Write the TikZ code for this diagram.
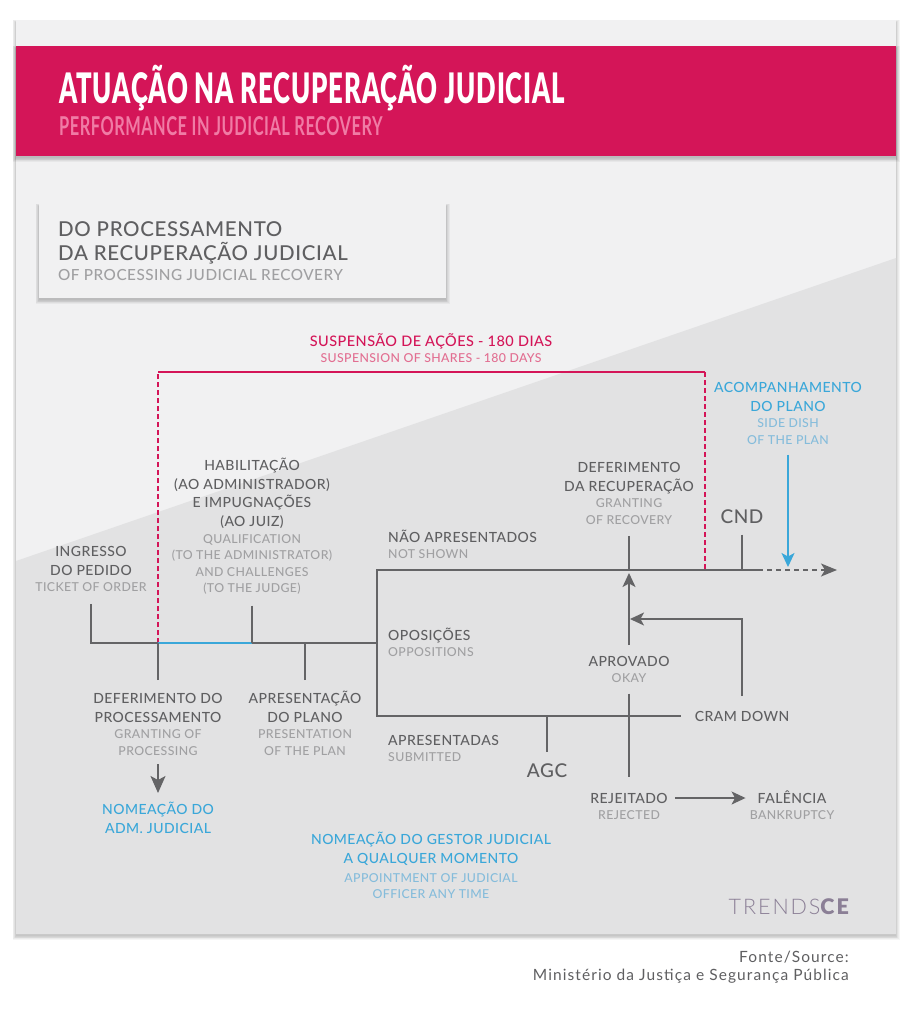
\documentclass[tikz,border=0pt]{standalone}
\usepackage{fontspec}
\usepackage{xcolor}
\usetikzlibrary{arrows.meta,positioning,calc}
\setmainfont{Lato}
\newfontfamily\labelfont[LetterSpace=3.2]{Lato Medium}
\newfontfamily\titlefont[FakeStretch=0.612,LetterSpace=2]{Lato Black}
\newfontfamily\subtitlefont[FakeStretch=0.63,LetterSpace=2]{Lato Bold}
\newfontfamily\srcfont[LetterSpace=7]{Lato}
\newfontfamily\logofont[LetterSpace=9]{Lato Light}
\newfontfamily\logobold[LetterSpace=9]{Lato Black}
\newcommand{\pt}{\labelfont\fontsize{14}{18.8}\selectfont}
\newcommand{\en}{\labelfont\fontsize{12.3}{16}\selectfont}
\newcommand{\hd}{\rule{0pt}{15pt}}
\newcommand{\enl}{\\[-2.3pt]}
\newcommand{\eng}{\en\color{engray}}
\newcommand{\enb}{\en\color{enblue}}
\newcommand{\enr}{\en\color{enred}}
\definecolor{panellight}{RGB}{241,241,242}
\definecolor{paneldark}{RGB}{226,226,227}
\definecolor{headred}{RGB}{212,21,88}
\definecolor{headpink}{RGB}{240,123,165}
\definecolor{linegray}{RGB}{100,100,102}
\definecolor{textgray}{RGB}{95,95,97}
\definecolor{engray}{RGB}{160,160,162}
\definecolor{softblue}{RGB}{58,167,217}
\definecolor{enblue}{RGB}{133,188,219}
\definecolor{enred}{RGB}{226,110,145}
\definecolor{logogray}{RGB}{139,127,150}
\newcommand{\softshadow}[2]{
  \foreach \d in {0,1,2,3,4,5} {
    \fill[black, opacity=0.04] ($(#1)+(-\d*0.7,-\d*0.4+2)$) rectangle ($(#2)+(\d*0.7,\d*0.8+2)$);
  }
}
\tikzset{
  lab/.style={inner sep=0pt, text=textgray, align=center, font=\pt},
  labl/.style={lab, align=left, anchor=north west},
  labc/.style={lab, anchor=north},
  bluelab/.style={labc, text=softblue},
  ln/.style={draw=linegray, line width=1.5pt},
  arw/.style={ln, -{Stealth[length=14pt, width=13pt, inset=3.5pt]}},
  reddash/.style={draw=headred, line width=1.3pt, dash pattern=on 5pt off 3pt},
}
\begin{document}
\begin{tikzpicture}[x=1pt, y=-1pt, >=Stealth]
  \useasboundingbox (0,0) rectangle (912,1024);
  \fill[white] (0,0) rectangle (912,1024);
  \softshadow{16,20}{896,934}
  \fill[panellight] (16,20) rectangle (896,934);
  \fill[paneldark] (16,561) -- (896,258) -- (896,934) -- (16,934) -- cycle;
  \softshadow{16,46}{896,156}
  \fill[headred] (16,46) rectangle (896,156);
  \softshadow{39,204}{446,298}
  \fill[panellight] (39,204) rectangle (446,298);

  \node[anchor=base west, inner sep=0pt, text=white, font=\titlefont\fontsize{42}{42}\selectfont] (title) at (59,104) {ATUAÇÃO NA RECUPERAÇÃO JUDICIAL};
  \node[anchor=base west, inner sep=0pt, text=headpink, font=\subtitlefont\fontsize{26}{26}\selectfont] (subtitle) at (59,136) {PERFORMANCE IN JUDICIAL RECOVERY};
  \node[inner sep=0pt, align=left, anchor=north west, text=textgray, font=\labelfont\fontsize{20.5}{24}\selectfont] (section) at (58,221) {DO PROCESSAMENTO\\DA RECUPERAÇÃO JUDICIAL\\[-4pt]\labelfont\fontsize{15.3}{20}\selectfont\color{engray}OF PROCESSING JUDICIAL RECOVERY};

  \node[labc, text=headred, font=\labelfont\fontsize{14.5}{18.8}\selectfont] (suspensao) at (431,331) {\hd SUSPENSÃO DE AÇÕES - 180 DIAS\enl\enr SUSPENSION OF SHARES - 180 DAYS};
  \node[bluelab] (acomp) at (788,377) {\hd ACOMPANHAMENTO\\DO PLANO\enl\enb SIDE DISH\enl\enb OF THE PLAN};
  \node[labc] (habilitacao) at (252,455) {\hd HABILITAÇÃO\\(AO ADMINISTRADOR)\\E IMPUGNAÇÕES\\(AO JUIZ)\enl\eng QUALIFICATION\enl\eng (TO THE ADMINISTRATOR)\enl\eng AND CHALLENGES\enl\eng (TO THE JUDGE)};
  \node[labc] (ingresso) at (91,541) {\hd INGRESSO\\DO PEDIDO\enl\eng TICKET OF ORDER};
  \node[labc] (defrec) at (629,457) {\hd DEFERIMENTO\\DA RECUPERAÇÃO\enl\eng GRANTING\enl\eng OF RECOVERY};
  \node[labl] (naoapres) at (388,527) {\hd NÃO APRESENTADOS\enl\eng NOT SHOWN};
  \node[labc, font=\labelfont\fontsize{19}{22}\selectfont] (cnd) at (742,508) {\hd CND};
  \node[labl] (oposicoes) at (388,625) {\hd OPOSIÇÕES\enl\eng OPPOSITIONS};
  \node[labc] (defproc) at (158,688) {\hd DEFERIMENTO DO\\PROCESSAMENTO\enl\eng GRANTING OF\enl\eng PROCESSING};
  \node[labc] (apresplano) at (305,688) {\hd APRESENTAÇÃO\\DO PLANO\enl\eng PRESENTATION\enl\eng OF THE PLAN};
  \node[bluelab] (nomeadm) at (158,799) {\hd NOMEAÇÃO DO\\ADM. JUDICIAL};
  \node[labc] (aprovado) at (629,651) {\hd APROVADO\enl\eng OKAY};
  \node[labc] (cram) at (742,706) {\hd CRAM DOWN};
  \node[labl] (apresent) at (388,730) {\hd APRESENTADAS\enl\eng SUBMITTED};
  \node[labc, font=\labelfont\fontsize{19}{22}\selectfont] (agc) at (547,762) {\hd AGC};
  \node[labc] (rejeitado) at (629,788) {\hd REJEITADO\enl\eng REJECTED};
  \node[labc] (falencia) at (792,788) {\hd FALÊNCIA\enl\eng BANKRUPTCY};
  \node[bluelab] (nomegestor) at (431,829) {\hd NOMEAÇÃO DO GESTOR JUDICIAL\\A QUALQUER MOMENTO\\[0.5pt]\enb APPOINTMENT OF JUDICIAL\enl\enb OFFICER ANY TIME};
  \node[anchor=base east, inner sep=0pt, text=logogray, font=\fontsize{21.5}{22}\selectfont] (logo) at (849,914) {\logofont TRENDS\logobold CE};
  \node[anchor=north east, inner sep=0pt, align=right, text=textgray, font=\srcfont\fontsize{15.5}{18}\selectfont] (fonte) at (849,951) {Fonte/Source:\\Ministério da Justiça e Segurança Pública};

  \coordinate (j158) at (158,643);
  \coordinate (j252) at (252,643);
  \coordinate (j305) at (305,643);
  \coordinate (j377) at (377,643);
  \coordinate (boxtop) at (377,570);
  \coordinate (boxbot) at (377,716);
  \coordinate (j547) at (547,716);
  \coordinate (j629) at (629,570);
  \coordinate (j705) at (705,570);
  \coordinate (j742) at (742,570);
  \coordinate (j788) at (788,570);
  \coordinate (dashstart) at (758,570);
  \coordinate (lineend) at (837,570);
  \coordinate (cramjoin) at (629,619);
  \coordinate (rejy) at (629,798);
  \coordinate (redl) at (158,372);
  \coordinate (redr) at (705,372);

  \draw[reddash] (j158) -- (redl);
  \draw[draw=headred, line width=1.3pt] (redl) -- (redr);
  \draw[reddash] (redr) -- (j705);
  \draw[ln, shorten <=12pt] (ingresso.south) |- (j158);
  \draw[ln] (j252) -- (j377);
  \draw[draw=softblue, line width=1.5pt] (j158) -- (j252);
  \draw[ln, shorten <=11pt] (habilitacao.south) -- (j252);
  \draw[ln, shorten <=8pt] (defproc.north) -- (j158);
  \draw[ln, shorten <=8pt] (apresplano.north) -- (j305);
  \draw[ln, -{Stealth[length=17pt, width=15pt, inset=4pt]}, shorten <=9pt, shorten >=6pt] (defproc.south) -- (nomeadm.north);
  \draw[ln, shorten >=14pt] (dashstart) -- (boxtop) -- (boxbot) -- (cram.west |- boxbot);
  \draw[ln, dash pattern=on 5pt off 4pt, -{Stealth[length=16pt, width=13pt, inset=4pt]}] (dashstart) -- (lineend);
  \draw[ln, shorten <=11.5pt] (defrec.south) -- (j629);
  \draw[ln, shorten <=11pt] (cnd.south) -- (j742);
  \draw[arw, shorten <=6pt, shorten >=3pt] (aprovado.north) -- (j629);
  \draw[ln, shorten <=10.5pt, shorten >=11pt] (aprovado.south) -- (rejeitado.north);
  \draw[arw, shorten <=10pt, shorten >=1pt] (cram.north) |- (cramjoin);
  \draw[ln, shorten >=10pt] (j547) -- (agc.north);
  \draw[arw, draw=softblue, fill=softblue, shorten <=10.5pt, shorten >=3pt] (acomp.south) -- (j788);
  \draw[arw, shorten <=7pt, shorten >=4pt] (rejeitado.east |- rejy) -- (falencia.west |- rejy);
\end{tikzpicture}
\end{document}
